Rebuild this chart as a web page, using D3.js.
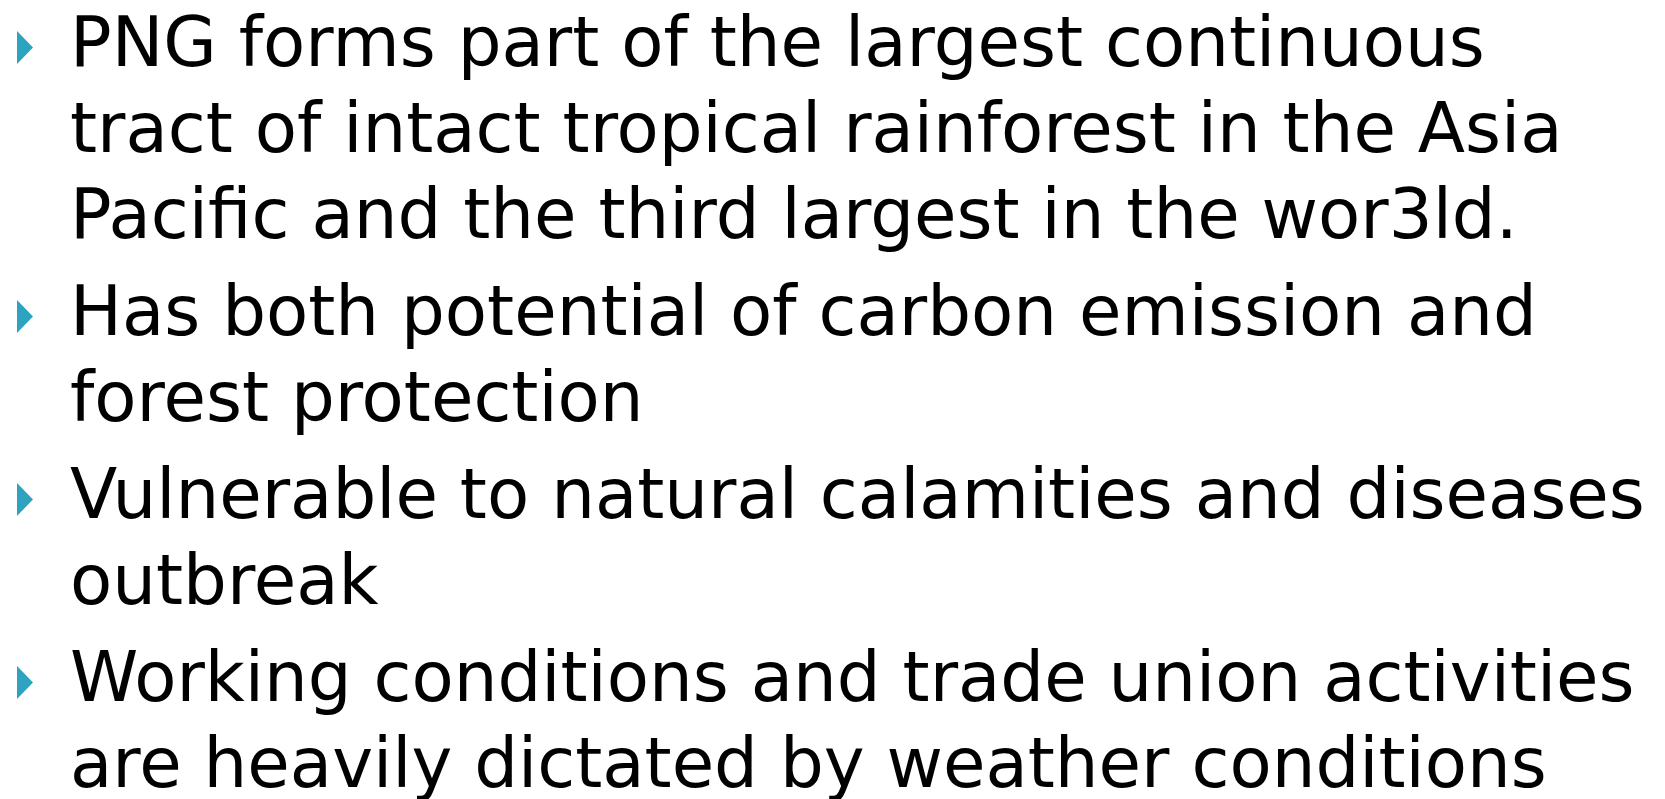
<!DOCTYPE html>
<html>
<head>
<meta charset="utf-8">
<script src="https://cdn.jsdelivr.net/npm/d3@7"></script>
<style>
  html, body { margin: 0; padding: 0; background: #fff; }
  svg { display: block; }
</style>
</head>
<body>
<script>
(function () {
  "use strict";
  var w = 1665,
      h = 799;

  // bullet paragraphs, each split into its wrapped lines
  var bullets = [
    ["PNG forms part of the largest continuous",
     "tract of intact tropical rainforest in the Asia",
     "Pacific and the third largest in the wor3ld."],
    ["Has both potential of carbon emission and",
     "forest protection"],
    ["Vulnerable to natural calamities and diseases",
     "outbreak"],
    ["Working conditions and trade union activities",
     "are heavily dictated by weather conditions"]
  ];
  var bulletColor = "#2ea3bf";

  var textX = 70,
      firstBaseline = 66,
      lineStep = 86,
      paraGap = 11,
      fitWidth = 1575; // width of the widest line in the reference

  // flatten into lines with running index for the y scale
  var lines = [];
  var slot = 0;
  bullets.forEach(function (para, p) {
    para.forEach(function (t, i) {
      lines.push({ text: t, para: p, first: i === 0, slot: slot, gaps: p });
      slot++;
    });
  });

  var y = d3.scaleLinear()
            .domain([0, 1])
            .range([firstBaseline, firstBaseline + lineStep]);

  var svg = d3.select("body")
              .append("svg")
              .attr("width", w)
              .attr("height", h);

  var font = "'DejaVu Sans', 'Liberation Sans', sans-serif";

  // measure every line at 100px and size the font so the widest one fits
  var probe = svg.append("text")
                 .attr("font-family", font)
                 .attr("font-size", 100);
  var widest = d3.max(lines, function (d) {
    probe.text(d.text);
    return probe.node().getComputedTextLength();
  });
  probe.remove();
  var size = 100 * fitWidth / widest;

  var baseline = d => y(d.slot) + d.gaps * paraGap;

  svg.selectAll("text.line")
     .data(lines)
     .enter()
     .append("text")
     .attr("class", "line")
     .attr("x", textX)
     .attr("y", baseline)
     .attr("font-family", font)
     .attr("font-size", size)
     .attr("fill", "#000")
     .text(d => d.text);

  svg.selectAll("path.bullet")
     .data(lines.filter(d => d.first))
     .enter()
     .append("path")
     .attr("class", "bullet")
     .attr("d", function (d) {
       var b = baseline(d);
       return "M17," + (b - 35) + "L33," + (b - 18.5) + "L17," + (b - 2) + "Z";
     })
     .attr("fill", bulletColor);
})();
</script>
</body>
</html>
